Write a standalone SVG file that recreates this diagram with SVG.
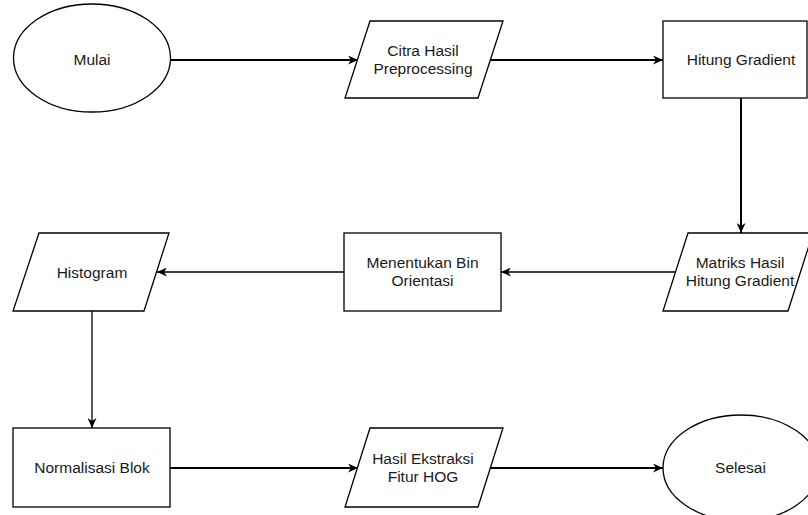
<svg xmlns="http://www.w3.org/2000/svg" width="808" height="515" viewBox="0 0 808 515">
  <style>
    .node { fill: #ffffff; stroke: #000000; stroke-width: 1.3; }
    .lbl { font-family: "Liberation Sans", Arial, sans-serif; font-size: 15.5px; fill: #1a1a1a; text-anchor: middle; }
    .edge { fill: none; stroke: #000000; }
    .thick { stroke-width: 2; }
    .thin { stroke-width: 1.3; }
  </style>
  <defs>
    <marker id="arrow" viewBox="0 0 10 9" refX="10" refY="4.5" markerWidth="10" markerHeight="9" markerUnits="userSpaceOnUse" orient="auto">
      <path d="M0,0 L10,4.5 L0,9 L3,4.5 Z" fill="#000000"/>
    </marker>
  </defs>
  <rect width="808" height="515" fill="#ffffff"/>

  <g id="connectors">
    <line class="edge thick" x1="171" y1="60" x2="358" y2="60" marker-end="url(#arrow)"/>
    <line class="edge thick" x1="490" y1="60" x2="663" y2="60" marker-end="url(#arrow)"/>
    <line class="edge thick" x1="741" y1="98" x2="741" y2="233" marker-end="url(#arrow)"/>
    <line class="edge thin" x1="676" y1="272" x2="501" y2="272" marker-end="url(#arrow)"/>
    <line class="edge thin" x1="344" y1="272" x2="157" y2="272" marker-end="url(#arrow)"/>
    <line class="edge thin" x1="92" y1="311" x2="92" y2="428" marker-end="url(#arrow)"/>
    <line class="edge thick" x1="170" y1="468" x2="358" y2="468" marker-end="url(#arrow)"/>
    <line class="edge thick" x1="490" y1="468" x2="663" y2="468" marker-end="url(#arrow)"/>
  </g>

  <g id="mulai">
    <ellipse class="node" cx="92" cy="58" rx="78.5" ry="54"/>
    <text class="lbl" x="92" y="65">Mulai</text>
  </g>

  <g id="citra">
    <polygon class="node" points="370,21 503,21 478,98 345,98"/>
    <text class="lbl" x="423" y="56">Citra Hasil</text>
    <text class="lbl" x="423" y="74">Preprocessing</text>
  </g>

  <g id="hitung">
    <rect class="node" x="663" y="21" width="144" height="77"/>
    <text class="lbl" x="741" y="65">Hitung Gradient</text>
  </g>

  <g id="matriks">
    <polygon class="node" points="688,233 813,233 788,311 663,311"/>
    <text class="lbl" x="740" y="267.5">Matriks Hasil</text>
    <text class="lbl" x="740" y="285.5">Hitung Gradient</text>
  </g>

  <g id="menentukan">
    <rect class="node" x="344" y="233" width="157" height="78"/>
    <text class="lbl" x="422.5" y="267.5">Menentukan Bin</text>
    <text class="lbl" x="422.5" y="285.5">Orientasi</text>
  </g>

  <g id="histogram">
    <polygon class="node" points="39,233 169,233 144,311 13,311"/>
    <text class="lbl" x="92" y="277.5">Histogram</text>
  </g>

  <g id="normalisasi">
    <rect class="node" x="13" y="428" width="157" height="79"/>
    <text class="lbl" x="92" y="473">Normalisasi Blok</text>
  </g>

  <g id="hasil">
    <polygon class="node" points="370,428 503,428 478,507 345,507"/>
    <text class="lbl" x="423" y="464">Hasil Ekstraksi</text>
    <text class="lbl" x="423" y="482">Fitur HOG</text>
  </g>

  <g id="selesai">
    <ellipse class="node" cx="741" cy="468" rx="78" ry="53"/>
    <text class="lbl" x="740.5" y="473">Selesai</text>
  </g>
</svg>
